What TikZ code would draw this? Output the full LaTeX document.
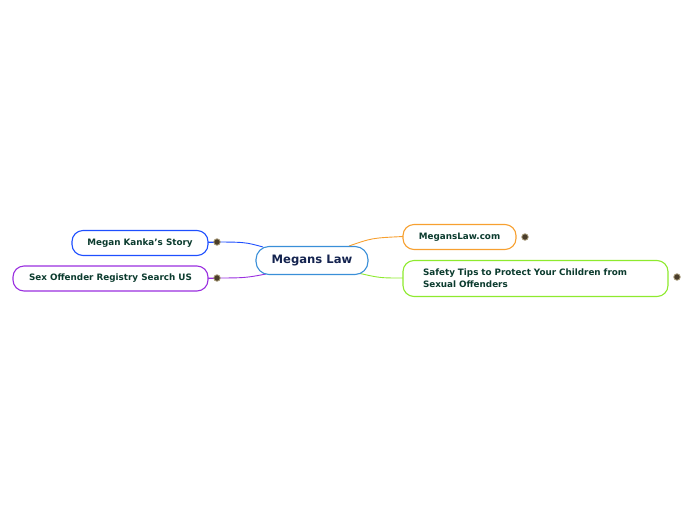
\documentclass[tikz,border=0pt]{standalone}
\usepackage{fontspec}
\setmainfont{DejaVu Sans}
\definecolor{txtgreen}{HTML}{0B3B2E}
\definecolor{txtnavy}{HTML}{14234F}
\definecolor{mainblue}{HTML}{3A8FD8}
\definecolor{kankablue}{HTML}{1E4FFF}
\definecolor{regpurple}{HTML}{9A2FE0}
\definecolor{siteorange}{HTML}{F7A030}
\definecolor{tipgreen}{HTML}{8EEA2E}
\definecolor{dotfill}{HTML}{4A3D2A}
\definecolor{dotring}{HTML}{A89A78}
\tikzset{
  topic/.style={draw,line width=1.1pt,rounded corners=11pt,fill=white,
    minimum height=25pt,inner xsep=10pt,font=\fontsize{8.8}{10}\selectfont\bfseries,text=txtgreen},
  central/.style={draw=mainblue,line width=1.1pt,rounded corners=13pt,fill=white,
    minimum width=112pt,minimum height=28pt,font=\fontsize{11.6}{13}\selectfont\bfseries,text=txtnavy},
  dotm/.style={circle,fill=dotfill,draw=dotring,line width=0.8pt,inner sep=0pt,minimum size=6.5pt},
  link/.style={line width=0.9pt}
}
\begin{document}
\begin{tikzpicture}[x=1pt,y=-1pt]
\useasboundingbox (0,0) rectangle (696,520);
% connectors first
\coordinate (kl) at (263,247);
\coordinate (rl) at (266,274);
\coordinate (ml) at (349,246);
\coordinate (sl) at (358,273);
\draw[link,kankablue] (kl) .. controls (245,242) .. (208,242);
\draw[link,regpurple] (rl) .. controls (245,278) .. (208,278);
\draw[link,siteorange] (ml) .. controls (372,238) .. (403,236.5);
\draw[link,tipgreen] (sl) .. controls (380,278) .. (403,278);
\draw[link,kankablue] (208,242) -- (217,242);
\draw[link,regpurple] (208,278) -- (217,278);
% nodes
\node[central] (law) at (312,260.5) {Megans Law};
\node[topic,draw=kankablue,minimum width=136pt] (kanka) at (140,243) {Megan Kanka’s Story};
\node[topic,draw=regpurple,minimum width=195pt] (registry) at (110.5,278.5) {Sex Offender Registry Search US};
\node[topic,draw=tipgreen,minimum width=265pt,minimum height=36pt,text width=225pt,inner xsep=20pt,align=left,
  font=\fontsize{8.8}{12}\selectfont\bfseries] (tips) at (535.5,278.5) {Safety Tips to Protect Your Children from\\Sexual Offenders};
\node[topic,draw=siteorange,minimum width=113pt] (site) at (459.5,237) {MegansLaw.com};
% markers
\node[dotm] (kdot) at (217,242) {};
\node[dotm] (rdot) at (217,278) {};
\node[dotm] (mdot) at (525,237) {};
\node[dotm] (tdot) at (677,277) {};
\end{tikzpicture}
\end{document}
